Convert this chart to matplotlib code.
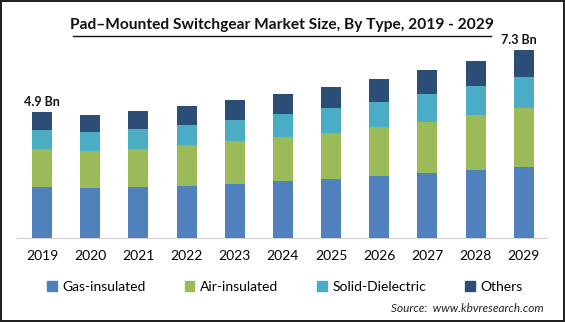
import numpy as np
import matplotlib.pyplot as plt
from matplotlib.patches import Rectangle
from matplotlib.lines import Line2D

plt.rcParams['font.family'] = ['Lato', 'DejaVu Sans']

# Data (USD Bn)
years = ['2019', '2020', '2021', '2022', '2023', '2024', '2025', '2026', '2027', '2028', '2029']
gas_insulated = [1.99, 1.95, 1.99, 2.03, 2.11, 2.22, 2.30, 2.42, 2.53, 2.65, 2.77]
air_insulated = [1.47, 1.44, 1.47, 1.60, 1.68, 1.72, 1.79, 1.91, 2.00, 2.14, 2.29]
solid_dielectric = [0.75, 0.74, 0.79, 0.78, 0.82, 0.91, 0.97, 0.97, 1.09, 1.13, 1.22]
others = [0.69, 0.66, 0.70, 0.74, 0.78, 0.77, 0.82, 0.90, 0.94, 0.97, 1.05]

series_names = ['Gas-insulated', 'Air-insulated', 'Solid-Dielectric', 'Others']
colors = ['#4f81bd', '#9bbb59', '#4bacc6', '#2c4d75']
end_labels = {0: '4.9 Bn', 10: '7.3 Bn'}

fig = plt.figure(figsize=(5.65, 3.22), dpi=100)
fig.patch.set_edgecolor('#222222')
fig.patch.set_linewidth(1.5)

ax = fig.add_axes([0.030, 0.261, 0.938, 0.637])
x = np.arange(len(years))
bottom = np.zeros(len(years))
for vals, name, c in zip([gas_insulated, air_insulated, solid_dielectric, others], series_names, colors):
    ax.bar(x, vals, width=0.415, bottom=bottom, color=c, label=name)
    bottom = bottom + np.array(vals)

# total labels on first and last bar
for i, txt in end_labels.items():
    ax.text(x[i] - 0.1 * (i == 10), bottom[i] + 0.17, txt, ha='center', va='bottom',
            fontsize=9, fontweight='bold', color='#111111')

ax.set_xlim(-0.52, 10.48)
ax.set_ylim(0, 8)
for s in ['top', 'right', 'left']:
    ax.spines[s].set_visible(False)
ax.spines['bottom'].set_color('#d0d0d0')
ax.set_yticks([])
ax.set_xticks(x)
ax.set_xticklabels(years, fontsize=10)
ax.tick_params(axis='x', length=0, pad=9)

fig.text(282 / 565, 0.910, 'Pad\u2013Mounted Switchgear Market Size, By Type, 2019 - 2029',
         ha='center', va='baseline', fontsize=11.2, fontweight='bold', color='#111111')
fig.add_artist(Line2D([73 / 565, 491 / 565], [0.888, 0.888], color='#111111', lw=1))

handles = [Rectangle((0, 0), 1, 1, color=c) for c in colors]
fig.legend(handles, series_names, loc='center', bbox_to_anchor=(0.504, 0.109), ncol=4,
           frameon=False, fontsize=10, handlelength=0.7, handleheight=0.7,
           handletextpad=0.4, columnspacing=2.8)

fig.text(544 / 565, 1 - 309 / 322, 'Source:  www.kbvresearch.com', ha='right', va='center',
         fontsize=8.5, style='italic', color='#222222')

fig.savefig('out.png', dpi=100)
